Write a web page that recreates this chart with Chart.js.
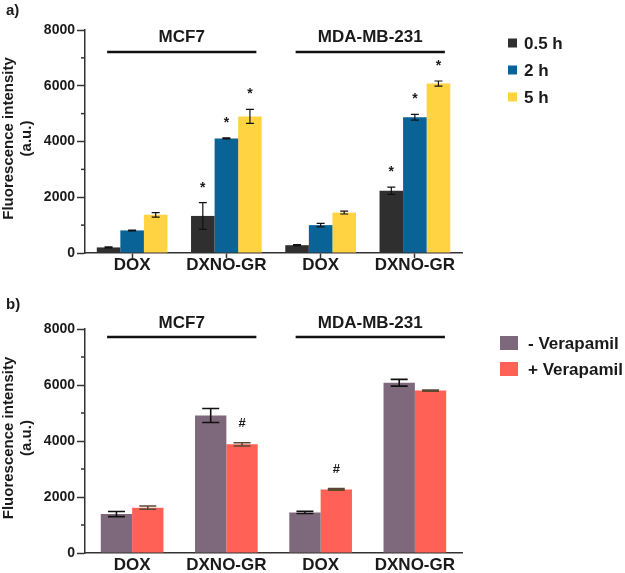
<!DOCTYPE html>
<html>
<head>
<meta charset="utf-8">
<script src="https://cdn.jsdelivr.net/npm/chart.js@4.4.0/dist/chart.umd.min.js"></script>
<style>
  html, body { margin: 0; padding: 0; background: #fff; }
  #wrap { position: relative; width: 625px; height: 573px; }
  #wrap canvas { position: absolute; left: 0; top: 0; }
</style>
</head>
<body>
<div id="wrap">
  <canvas id="chartA" width="625" height="573"></canvas>
  <canvas id="chartB" width="625" height="573"></canvas>
</div>
<script>
// Shared axis data
const categories = ['DOX', 'DXNO-GR', 'DOX', 'DXNO-GR'];
const cellLines = ['MCF7', 'MDA-MB-231'];
const yTicks = [0, 2000, 4000, 6000, 8000];
const yMinorTicks = [1000, 3000, 5000, 7000];

// Panel a - uptake over time
const timeLabels = ['0.5 h', '2 h', '5 h'];
const uptake05h = [200, 1330, 280, 2230];
const uptake05hErr = [20, 480, 20, 130];
const uptake2h = [810, 4110, 1000, 4870];
const uptake2hErr = [15, 20, 60, 100];
const uptake5h = [1370, 4900, 1450, 6080];
const uptake5hErr = [80, 250, 50, 90];
const uptakeStars = [false, true, false, true];

// Panel b - effect of verapamil (5 h)
const verapamilLabels = ['- Verapamil', '+ Verapamil'];
const noVerapamil = [1390, 4910, 1450, 6080];
const noVerapamilErr = [90, 250, 40, 120];
const withVerapamil = [1620, 3880, 2270, 5800];
const withVerapamilErr = [60, 60, 30, 20];
const verapamilHash = [false, true, true, false];

const FONT = "'Liberation Sans', Arial, sans-serif";
const INK = '#1a1a1a';

Chart.defaults.font.family = FONT;
Chart.defaults.font.weight = 'bold';

// Draws error bars, significance marks, group labels, axis title and legend
function panelPlugin(p) {
    return {
        id: 'panelExtras',
        afterDatasetsDraw(chart) {
            const ctx = chart.ctx;
            const y = chart.scales.y;
            ctx.save();
            chart.data.datasets.forEach((ds, i) => {
                const meta = chart.getDatasetMeta(i);
                meta.data.forEach((bar, j) => {
                    const v = ds.data[j], e = ds.errors[j];
                    const top = y.getPixelForValue(v + e);
                    const bot = y.getPixelForValue(v - e);
                    ctx.strokeStyle = ds.errColor;
                    ctx.lineWidth = p.errWidth;
                    ctx.beginPath();
                    ctx.moveTo(bar.x, top); ctx.lineTo(bar.x, bot);
                    ctx.moveTo(bar.x - p.cap / 2, top); ctx.lineTo(bar.x + p.cap / 2, top);
                    ctx.moveTo(bar.x - p.cap / 2, bot); ctx.lineTo(bar.x + p.cap / 2, bot);
                    ctx.stroke();
                    if (ds.marks && ds.marks[j]) {
                        ctx.fillStyle = INK;
                        ctx.font = 'bold ' + p.markSize + 'px ' + FONT;
                        ctx.textAlign = 'center';
                        ctx.textBaseline = 'alphabetic';
                        ctx.fillText(p.mark, bar.x, top + p.markDy);
                    }
                });
            });
            ctx.restore();
        },
        afterDraw(chart) {
            const ctx = chart.ctx;
            const area = chart.chartArea;
            const x = chart.scales.x, y = chart.scales.y;
            ctx.save();

            // minor ticks on the y axis
            ctx.strokeStyle = '#333';
            ctx.lineWidth = 1.5;
            yMinorTicks.forEach(v => {
                const py = y.getPixelForValue(v);
                ctx.beginPath();
                ctx.moveTo(area.left - 4, py); ctx.lineTo(area.left, py);
                ctx.stroke();
            });

            // panel letter
            ctx.fillStyle = INK;
            ctx.font = 'bold 15px ' + FONT;
            ctx.textAlign = 'left';
            ctx.textBaseline = 'middle';
            ctx.fillText(p.letter, 6, p.letterY);

            // y axis title, two lines
            const midY = (area.top + area.bottom) / 2 - 3;
            ctx.font = 'bold 15px ' + FONT;
            ctx.textAlign = 'center';
            [['Fluorescence intensity', 9], ['(a.u.)', 27]].forEach(([t, tx]) => {
                ctx.save();
                ctx.translate(tx, midY);
                ctx.rotate(-Math.PI / 2);
                ctx.fillText(t, 0, 0);
                ctx.restore();
            });

            // cell line group headers
            cellLines.forEach((name, g) => {
                const x0 = x.getPixelForValue(g * 2) - 25;
                const x1 = x.getPixelForValue(g * 2 + 1) + 30;
                ctx.strokeStyle = '#111';
                ctx.lineWidth = 2.5;
                ctx.beginPath();
                ctx.moveTo(x0, area.top + p.lineDy); ctx.lineTo(x1, area.top + p.lineDy);
                ctx.stroke();
                ctx.font = 'bold 17px ' + FONT;
                ctx.fillText(name, (x0 + x1) / 2, area.top + p.textDy);
            });

            // legend
            ctx.textAlign = 'left';
            ctx.font = 'bold 17px ' + FONT;
            chart.data.datasets.forEach((ds, i) => {
                const cy = p.legend.y + i * p.legend.gap;
                ctx.fillStyle = ds.backgroundColor;
                ctx.fillRect(p.legend.x, cy - p.legend.h / 2, p.legend.w, p.legend.h);
                ctx.fillStyle = INK;
                ctx.fillText(ds.label, p.legend.textX, cy + 1);
            });
            ctx.restore();
        }
    };
}

function makePanel(canvasId, datasets, p) {
    return new Chart(document.getElementById(canvasId), {
        type: 'bar',
        data: { labels: categories, datasets: datasets },
        options: {
            responsive: false,
            animation: false,
            devicePixelRatio: 1,
            layout: { padding: p.padding },
            datasets: { bar: { categoryPercentage: p.catPct, barPercentage: 1, borderWidth: 0 } },
            plugins: { legend: { display: false }, tooltip: { enabled: false } },
            scales: {
                x: {
                    offset: true,
                    grid: { offset: false, drawOnChartArea: false, drawTicks: p.xTicks, tickLength: 5, tickColor: '#333', tickWidth: 1.5 },
                    border: { color: '#333', width: 1.5 },
                    ticks: { font: { size: 17, weight: 'bold', lineHeight: 1 }, color: INK, padding: p.xPad, maxRotation: 0, autoSkip: false },
                    afterFit: s => { s.height = p.xHeight; }
                },
                y: {
                    min: 0,
                    max: 8000,
                    afterBuildTicks: s => { s.ticks = yTicks.map(v => ({ value: v })); },
                    grid: { drawOnChartArea: false, tickLength: 8, tickColor: '#333', tickWidth: 1.5 },
                    border: { color: '#333', width: 1.5 },
                    ticks: { font: { size: 14, weight: 'bold' }, color: INK, padding: 2, callback: v => String(v) },
                    afterFit: s => { s.width = 85; }
                }
            }
        },
        plugins: [panelPlugin(p)]
    });
}

// Panel a
makePanel('chartA', [
    { label: timeLabels[0], data: uptake05h, errors: uptake05hErr, marks: uptakeStars, backgroundColor: '#2f2f2f', errColor: '#111' },
    { label: timeLabels[1], data: uptake2h, errors: uptake2hErr, marks: uptakeStars, backgroundColor: '#0a6396', errColor: '#111' },
    { label: timeLabels[2], data: uptake5h, errors: uptake5hErr, marks: uptakeStars, backgroundColor: '#ffd342', errColor: '#111' }
], {
    padding: { left: 0, top: 30, right: 163, bottom: 293 },
    catPct: 0.75, xTicks: true, xPad: -1, xHeight: 27,
    errWidth: 1.2, cap: 8, mark: '*', markSize: 14, markDy: -11,
    letter: 'a)', letterY: 11, lineDy: 22, textDy: 7,
    legend: { x: 508, y: 43, gap: 27, w: 9, h: 9, textX: 524 }
});

// Panel b
makePanel('chartB', [
    { label: verapamilLabels[0], data: noVerapamil, errors: noVerapamilErr, backgroundColor: '#7e687b', errColor: '#111' },
    { label: verapamilLabels[1], data: withVerapamil, errors: withVerapamilErr, marks: verapamilHash, backgroundColor: '#ff6157', errColor: '#5b4a32' }
], {
    padding: { left: 0, top: 329, right: 163, bottom: 0 },
    catPct: 0.665, xTicks: false, xPad: 4, xHeight: 20,
    errWidth: 1.6, cap: 17, mark: '#', markSize: 13, markDy: -16,
    letter: 'b)', letterY: 305, lineDy: 8, textDy: -6,
    legend: { x: 500, y: 343, gap: 26, w: 18, h: 14, textX: 528 }
});
</script>
</body>
</html>
